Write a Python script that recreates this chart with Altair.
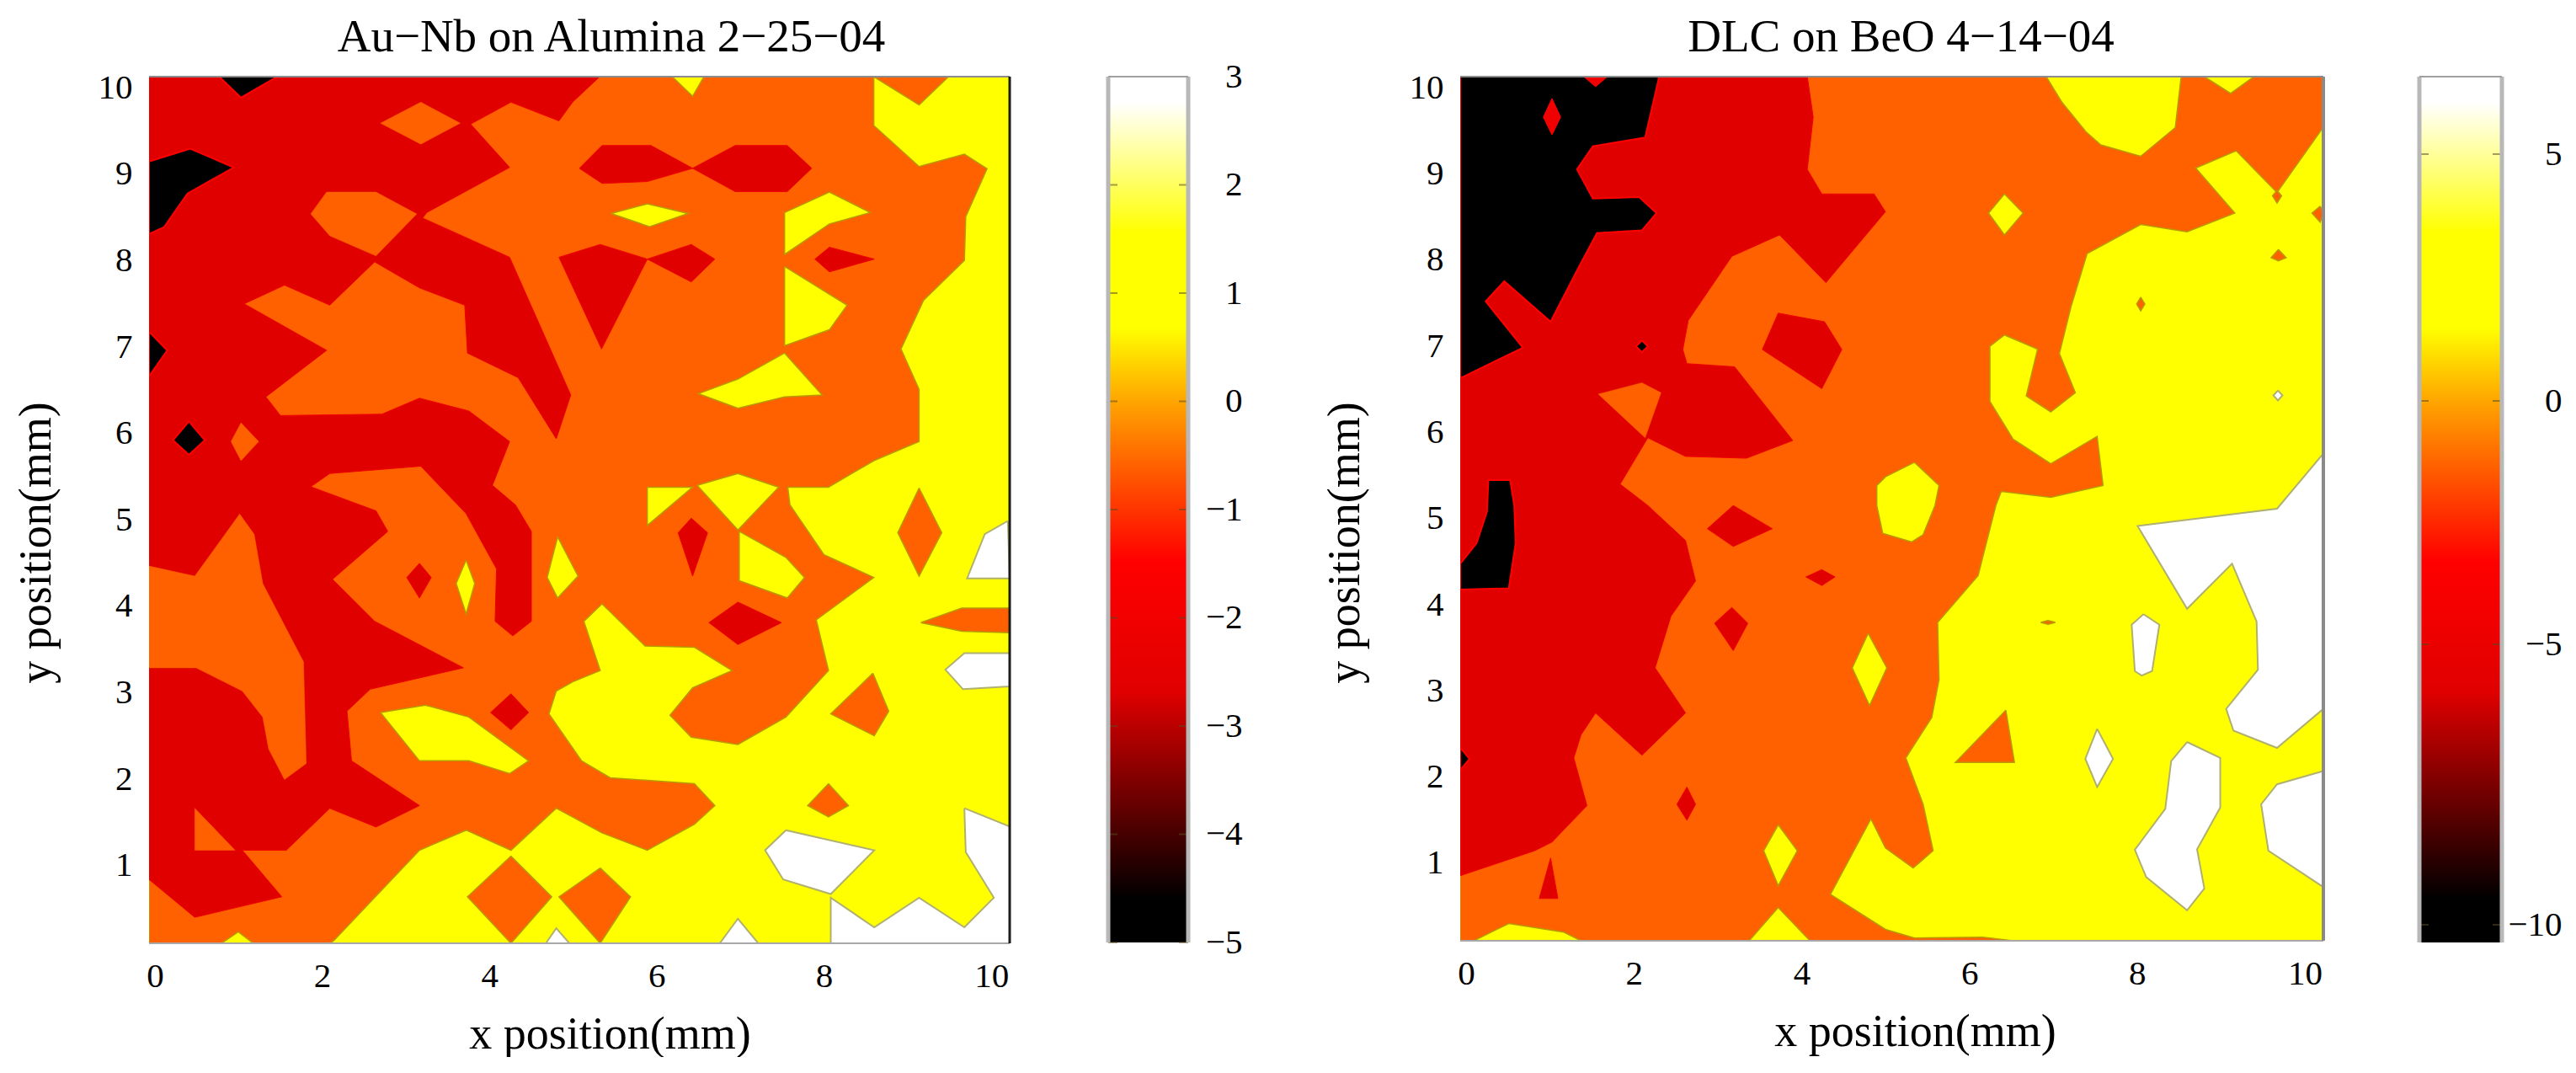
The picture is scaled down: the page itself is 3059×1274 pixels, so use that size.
import altair as alt
import pandas as pd

FONT = "Liberation Serif"
BLACK, RED, ORANGE, YELLOW, WHITE = "#000000", "#E00000", "#FF6000", "#FFFF00", "#FFFFFF"

# Region outlines read from the picture, as (column, row) on the 20 x 20 measuring grid
# (column 0 = left edge, row 0 = top edge).
A_WHITE = [
    [(18.96,9.74),(18.45,10.03),(18.06,11),(19,11)],
    [(19,12.64),(18,12.64),(17.58,13),(17.97,13.43),(19,13.37)],
    [(14.06,16.52),(16.01,16.96),(15.05,17.92),(14,17.6),(13.6,16.96)],
    [(18,16.04),(19,16.44),(19,19),(15.05,19),(15.05,18),(16.01,18.65),(17,18),(18,18.65),(18.65,18),(18.03,17)],
    [(12.6,19),(13,18.46),(13.45,19)],
    [(8.76,19),(8.99,18.67),(9.28,19)],
]
A_ORANGE = [
    [(0,0),(11.55,0),(12,0.43),(12.25,0),(17.65,0),(17,0.62),(16,0),(16,1.07),(17,1.97),(18,1.7),(18.5,2.02),
     (18.03,3.07),(18,4.03),(17.1,4.9),(16.6,5.97),(17,6.86),(17,8),(16,8.42),(15,9),(14.1,9),(14.15,9.39),
     (14.9,10.48),(16,10.98),(14.73,11.91),(15,13.02),(14.06,14.04),(13,14.64),(11.97,14.48),(11.5,14),(12,13.4),
     (12.87,13.02),(12.04,12.51),(10.95,12.48),(10,11.56),(9.6,11.94),(9.96,13.02),(9.35,13.27),(8.99,13.47),
     (8.83,13.97),(9.55,15),(10.18,15.37),(12.04,15.5),(12.49,15.98),(12.04,16.39),(11,16.96),(10,16.58),
     (8.99,16.04),(7.99,16.96),(7,16.52),(5.97,16.96),(4.08,18.94),(4,19),(0,19)],
    [(17,9.02),(17.5,10),(17,10.95),(16.53,10)],
    [(15.98,13.08),(16.33,13.91),(16.01,14.45),(15.05,13.97)],
    [(15,15.5),(15.44,15.98),(15,16.23),(14.54,15.98)],
    [(17.04,11.97),(17.94,11.65),(19,11.65),(19,12.19),(17.94,12.16)],
    [(7.99,17.09),(7.03,17.98),(7.99,19),(8.89,17.98)],
    [(9.96,17.35),(10.63,17.98),(9.96,19),(9.05,17.98)],
]
A_YELLOW = [
    [(11,9),(12,9),(11,9.84)],
    [(12.1,8.96),(13,8.7),(13.9,9),(13,9.94)],
    [(13.03,9.97),(14.06,10.54),(14.47,10.98),(14.09,11.43),(13.03,11.05)],
    [(10.2,3),(11,2.79),(11.9,3),(11.05,3.29)],
    [(14.03,2.98),(15.02,2.53),(15.92,2.98),(15.02,3.23),(14.03,3.9)],
    [(14.03,4.16),(15.41,5.01),(15.02,5.55),(14.03,5.9)],
    [(14.03,6.06),(14.86,6.98),(14.03,7.02),(13,7.27),(12.13,6.95),(13,6.63)],
    [(7,10.6),(7.19,11.11),(7,11.78),(6.78,11.11)],
    [(9.02,10.09),(9.47,10.95),(9.02,11.43),(8.79,10.98)],
    [(5.11,13.94),(6.1,13.78),(7.06,14.04),(8.38,15),(7.96,15.28),(7.06,15),(5.97,15)],
    [(1.6,19),(1.97,18.75),(2.3,19)],
]
A_RED = [
    [(0,0),(9.95,0),(9.35,0.56),(9.05,0.97),(7.99,0.56),(7.1,1.04),(7.96,1.99),(6.13,2.98),(6.04,3.1),(7.96,3.96),
     (9.31,6.98),(8.99,7.94),(8.15,6.6),(7.03,6.06),(6.97,5.01),(5.97,4.63),(4.98,4.06),(3.99,5.01),(2.99,4.57),
     (2.1,4.98),(3.92,6),(2.58,7.02),(2.9,7.43),(5.14,7.4),(5.97,7.05),(7.06,7.33),(7.96,8),(7.58,8.96),(8.09,9.39),
     (8.44,9.97),(8.44,11.94),(8.03,12.26),(7.64,11.94),(7.67,10.79),(7,9.58),(6,8.54),(3.99,8.7),(3.57,8.99),
     (5.01,9.52),(5.27,9.97),(4.05,11.02),(4.98,11.94),(6.94,12.96),(4.88,13.43),(4.37,13.91),(4.47,15),(5.97,15.98),
     (5.01,16.45),(3.99,16.04),(3.03,16.96),(2.06,16.96),(2.93,17.98),(1.01,18.43),(0,17.6)],
    [(9.5,2.01),(10,1.51),(11.08,1.51),(12,2.01),(12.94,1.51),(14.09,1.51),(14.63,2.01),(14.09,2.52),(12.94,2.52),
     (12,2.01),(11,2.3),(10,2.34)],
    [(9.05,3.96),(9.96,3.68),(11,4),(9.99,5.97)],
    [(11,4),(11.97,3.68),(12.49,4),(11.97,4.5)],
    [(14.7,4),(15.02,3.74),(16.01,4),(15.02,4.28)],
    [(11.97,9.68),(12.33,10),(12,10.95),(11.68,10)],
    [(13,11.52),(13.96,11.97),(13,12.45),(12.36,11.97)],
    [(5.97,10.67),(6.23,10.98),(5.97,11.43),(5.69,10.98)],
    [(7.99,13.53),(8.38,13.94),(7.99,14.32),(7.54,13.94)],
]
A_ORANGE_ON_RED = [
    [(0,10.73),(1.01,10.95),(2,9.59),(2.32,10.03),(2.51,11.11),(3.41,12.83),(3.47,15.06),(2.99,15.41),(2.64,14.74),
     (2.51,14.04),(2.06,13.47),(1.04,12.96),(0,12.96)],
    [(1.01,16.04),(1.9,16.96),(1.01,16.96)],
    [(5.11,1.02),(6,0.56),(6.87,1.02),(6,1.48)],
    [(3.57,3.01),(3.92,2.53),(5.01,2.53),(5.91,3.01),(5.01,3.93),(3.99,3.49)],
    [(1.81,8),(2.03,7.59),(2.42,8),(2.03,8.42)],
]
A_BLACK = [
    [(1.55,0),(2.83,0),(2.03,0.46)],
    [(0,1.86),(0.91,1.58),(1.87,1.99),(0.85,2.56),(0.33,3.3),(0,3.45)],
    [(0,5.59),(0.4,6),(0,6.57)],
    [(0.88,7.56),(1.23,7.97),(0.88,8.29),(0.53,7.97)],
]

B_WHITE = [
    [(18.97,8.32),(17.98,9.5),(14.91,9.88),(16,11.7),(16.99,10.71),(17.53,11.98),(17.56,13.04),(16.86,13.9),
     (17.02,14.38),(17.98,14.76),(19,13.9),(19,8.32)],
    [(19,15.27),(17.98,15.56),(17.63,16),(17.79,17.02),(19,17.82)],
    [(16,14.63),(16.73,14.98),(16.73,16.07),(16.22,16.99),(16.38,17.85),(16,18.33),(15.1,17.6),(14.85,17),(15.52,16.1),(15.65,15.05)],
    [(15.04,11.82),(15.39,12.05),(15.23,13.07),(15,13.17),(14.85,13.07),(14.78,12.05)],
    [(14.02,14.34),(14.37,15),(14.02,15.62),(13.76,15)],
    [(18,6.9),(18.1,7.01),(18,7.12),(17.9,7.01)],
]
B_ORANGE = [
    [(0,0),(12.9,0),(13.25,0.57),(13.77,1.21),(14.1,1.5),(14.98,1.75),(15.74,1.12),(15.87,0),(19,0),(19,1.08),(18.97,1.15),
     (17.98,2.55),(17.08,1.63),(16.19,2.01),(17.05,3),(16,3.41),(14.98,3.25),(13.8,3.89),(13.45,5.04),(13.19,6.09),
     (13.54,6.95),(13,7.37),(12.46,7.02),(12.71,5.99),(11.98,5.68),(11.66,5.93),(11.66,7.14),(12.17,7.97),(13,8.51),
     (14.02,7.91),(14.15,8.99),(13,9.25),(11.91,9.12),(11.79,9.43),(11.4,10.97),(10.51,12),(10.54,13.26),(10.38,14.09),
     (9.81,14.98),(10.19,16),(10.41,17.02),(9.97,17.4),(9.36,16.96),(9.04,16.32),(8.15,17.98),(9.36,18.75),(10,18.94),
     (11.5,18.92),(12.17,19),(0,19)],
    [(12.01,13.93),(12.2,15.08),(10.9,15.08)],
    [(12.94,11.96),(13.1,12),(12.94,12.04),(12.78,12)],
    [(14.98,4.85),(15.07,5),(14.98,5.15),(14.89,5)],
    [(18.01,3.8),(18.18,3.98),(18.01,4.05),(17.85,3.98)],
    [(17.98,2.5),(18.08,2.62),(17.98,2.78),(17.88,2.62)],
    [(18.93,2.85),(19,3),(18.93,3.2),(18.75,3)],
]
B_YELLOW = [
    [(16.38,0),(17.47,0),(16.96,0.37)],
    [(10,8.48),(10.54,8.99),(10.45,9.43),(10.19,10.07),(9.94,10.23),(9.3,10.04),(9.17,9.43),(9.17,8.99),(9.36,8.8)],
    [(11.98,2.58),(12.39,3),(11.98,3.48),(11.63,3)],
    [(8.98,12.24),(9.39,13),(9.01,13.83),(8.63,13)],
    [(7,16.45),(7.42,17.02),(7,17.79),(6.68,17.02)],
    [(6.36,19),(7,18.27),(7.7,19)],
    [(0.3,19),(1.07,18.62),(2.28,18.81),(2.66,19)],
]
B_RED = [
    [(0,0),(7.64,0),(7.77,0.89),(7.64,2.04),(7.96,2.58),(9.11,2.58),(9.36,2.97),(8.05,4.53),(7.03,3.48),(5.98,3.95),
     (5.02,5.36),(4.9,6),(4.99,6.31),(6.04,6.38),(7.32,8),(6.3,8.39),(4.96,8.35),(4.13,7.94),(3.52,8.96),(4.13,9.43),
     (4.96,10.2),(5.18,11.09),(4.64,11.86),(4.29,13),(4.96,13.99),(4,14.92),(2.98,13.99),(2.66,14.47),(2.5,14.98),
     (2.79,16.03),(2.02,16.83),(1.64,17.02),(0,17.57)],
    [(7,5.2),(8.02,5.39),(8.4,6),(7.96,6.86),(6.65,6)],
    [(6.01,9.43),(6.87,9.94),(6.01,10.33),(5.44,9.94)],
    [(7.96,10.84),(8.25,11),(7.96,11.19),(7.61,11)],
    [(5.98,11.67),(6.33,12.02),(6.01,12.62),(5.6,12.02)],
    [(4.99,15.62),(5.18,16),(4.99,16.35),(4.77,16)],
    [(1.99,17.18),(2.15,18.07),(1.74,18.07)],
]
B_ORANGE_ON_RED = [
    [(3.04,6.98),(4,6.73),(4.42,6.95),(4.07,7.94)],
]
B_BLACK = [
    [(0,0),(4.38,0),(4.07,1.34),(2.92,1.53),(2.57,2.04),(2.92,2.68),(3.94,2.65),(4.32,3),(4,3.38),(3.01,3.44),(2.6,4.21),
     (1.99,5.39),(0.97,4.5),(0.56,4.94),(1.38,5.96),(0,6.63)],
    [(1.19,9.43),(1.22,10.26),(1.07,11.25),(0,11.28),(0,10.71),(0.36,10.26),(0.59,9.56),(0.62,8.87),(1.1,8.87)],
    [(0,14.75),(0.2,15),(0,15.25)],
    [(4,5.8),(4.13,5.93),(4,6.06),(3.87,5.93)],
]
B_RED_ON_BLACK = [
    [(2.02,0.48),(2.21,0.89),(2.02,1.28),(1.83,0.89)],
    [(2.72,0),(2.98,0.22),(3.24,0)],
]

GRID_STEPS = 19
X_SPAN = [-0.07, 10.22]
Y_SPAN = [0.10, 10.13]
X_TICKS = [0, 2, 4, 6, 8, 10]
Y_TICKS = [1, 2, 3, 4, 5, 6, 7, 8, 9, 10]
CB1_TICKS = [-5, -4, -3, -2, -1, 0, 1, 2, 3]
CB2_TICKS = [-10, -5, 0, 5]
CB2_DOMAIN = [-10.4, -10, -5, 0, 5, 6.6]
CB2_RANGE = [1028, 1007, 674, 385, 92, 0]

STOP_POS = [0, 0.05, 0.17, 0.29, 0.44, 0.55, 0.62, 0.71, 0.82, 0.97, 1]
STOP_COL = ["#000000", "#000000", "#700000", "#E00000", "#FF0000", "#FF6000", "#FFA000", "#FFFF00", "#FFFF00", "#FFFFFF", "#FFFFFF"]

LABEL_SIZE = 41
AXIS_TITLE_SIZE = 54
TITLE_SIZE = 55


def rows(polys):
    out = []
    for p, poly in enumerate(polys):
        for i, (c, r) in enumerate(list(poly) + [poly[0]]):
            out.append({
                "x": X_SPAN[0] + c * (X_SPAN[1] - X_SPAN[0]) / GRID_STEPS,
                "y": Y_SPAN[1] - r * (Y_SPAN[1] - Y_SPAN[0]) / GRID_STEPS,
                "p": p, "i": i,
            })
    return pd.DataFrame(out)


def panel(title, title_dx, passes, w, h, x_title_x, y_title_x, right_col, right_w):
    xs = alt.Scale(domain=X_SPAN, nice=False, zero=False)
    ys = alt.Scale(domain=Y_SPAN, nice=False, zero=False)
    x_axis = alt.Axis(
        values=X_TICKS, grid=False, domain=False, tickSize=0, labelPadding=19,
        labelFont=FONT, labelFontSize=LABEL_SIZE, labelColor="#000", titleFont=FONT, titleFontSize=AXIS_TITLE_SIZE,
        titleFontWeight="normal", titleColor="#000", titleX=x_title_x, titleY=124, titleBaseline="alphabetic",
        title="x position(mm)")
    y_axis = alt.Axis(
        values=Y_TICKS, grid=False, domain=False, tickSize=0, labelPadding=20,
        labelFont=FONT, labelFontSize=LABEL_SIZE, labelColor="#000", titleFont=FONT, titleFontSize=AXIS_TITLE_SIZE,
        titleFontWeight="normal", titleColor="#000", titleX=y_title_x, titleY=553, title="y position(mm)")
    x_enc = alt.X("x:Q", scale=xs, axis=x_axis)
    y_enc = alt.Y("y:Q", scale=ys, axis=y_axis)
    layers = []
    for polys, fill, stroke, sw in passes:
        layers.append(alt.Chart(rows(polys)).mark_line(
            fill=fill, stroke=stroke, strokeWidth=sw, clip=True, interpolate="linear", strokeJoin="miter"
        ).encode(x=x_enc, y=y_enc, detail="p:N", order="i:Q"))
    y_df = pd.DataFrame({"y": Y_SPAN})
    x_df = pd.DataFrame({"x": [X_SPAN[1]]})
    frame = [
        alt.Chart(y_df).transform_filter(alt.datum.y > 5).mark_rule(color="#8c8c8c", strokeWidth=2).encode(y=y_enc),
        alt.Chart(y_df).transform_filter(alt.datum.y < 5).mark_rule(color="#a8a8a8", strokeWidth=2).encode(y=y_enc),
        alt.Chart(x_df).mark_rule(color=right_col, strokeWidth=right_w).encode(x=x_enc),
    ]
    return alt.layer(*layers, *frame).properties(
        width=w, height=h, view=alt.ViewConfig(fill=YELLOW, stroke=None),
        title=alt.TitleParams(title, font=FONT, fontSize=TITLE_SIZE, fontWeight="normal", color="#000", offset=10, dx=title_dx),
    )


def colorbar(lo, hi, ticks, scale, w, h, pad):
    grad = alt.Gradient(
        gradient="linear", x1=0, x2=0, y1=1, y2=0,
        stops=[alt.GradientStop(color=c, offset=o) for c, o in zip(STOP_COL, STOP_POS)],
    )
    axis = alt.Axis(values=ticks, orient="right", grid=False, domain=False, tickSize=0, labelAlign="right", labelPadding=pad,
                    labelFont=FONT, labelFontSize=LABEL_SIZE, labelColor="#000", title=None)
    span = pd.DataFrame({"a": [lo], "b": [hi]})
    bar = alt.Chart(span).mark_rect(fill=grad).encode(
        y=alt.Y("a:Q", scale=scale, axis=axis), y2="b:Q", x=alt.value(0), x2=alt.value(w))
    tick_df = pd.DataFrame({"a": ticks})
    t1 = alt.Chart(tick_df).mark_rule(color="#5a4a20", opacity=0.55, strokeWidth=2).encode(
        y=alt.Y("a:Q", scale=scale, axis=axis), x=alt.value(0), x2=alt.value(11))
    t2 = alt.Chart(tick_df).mark_rule(color="#5a4a20", opacity=0.55, strokeWidth=2).encode(
        y=alt.Y("a:Q", scale=scale, axis=axis), x=alt.value(w - 11), x2=alt.value(w))
    side1 = alt.Chart(span).mark_rule(color="#b8b8b8", strokeWidth=5).encode(
        x=alt.value(0), y=alt.value(0), y2=alt.value(h))
    side2 = alt.Chart(span).mark_rule(color="#b8b8b8", strokeWidth=5).encode(
        x=alt.value(w), y=alt.value(0), y2=alt.value(h))
    top = alt.Chart(span).mark_rule(color="#a0a0a0", strokeWidth=2).encode(
        x=alt.value(0), x2=alt.value(w), y=alt.value(0))
    return alt.layer(bar, t1, t2, side1, side2, top).properties(
        width=w, height=h, view=alt.ViewConfig(stroke=None),
    )


C_Y = "#B89A00"
C_W = "#B0B070"
A_PASSES = [
    (A_WHITE, WHITE, C_W, 2), (A_ORANGE, ORANGE, C_Y, 1.5), (A_YELLOW, YELLOW, C_Y, 1.5), (A_RED, RED, "#F00000", 1),
    (A_BLACK, BLACK, "#FF0000", 2), (A_ORANGE_ON_RED, ORANGE, ORANGE, 0.5),
]
B_PASSES = [
    (B_WHITE, WHITE, C_W, 2), (B_ORANGE, ORANGE, C_Y, 1.5), (B_YELLOW, YELLOW, C_Y, 1.5), (B_RED, RED, "#F00000", 1),
    (B_BLACK, BLACK, "#FF0000", 2), (B_RED_ON_BLACK, "#F00000", "#FF0000", 1), (B_ORANGE_ON_RED, ORANGE, ORANGE, 0.5),
]

p1 = panel("Au\u2212Nb on Alumina 2\u221225\u221204", 38, A_PASSES, 1022, 1029, 547, -107, "#1c1c1c", 3)
c1 = colorbar(-5, 3, CB1_TICKS, alt.Scale(domain=[-5, 3], nice=False, zero=False), 95, 1028, 64)
p2 = panel("DLC on BeO 4\u221214\u221204", 11, B_PASSES, 1025, 1026, 540, -110, "#8a8a8a", 4)
c2 = colorbar(-10.4, 6.6, CB2_TICKS, alt.Scale(domain=CB2_DOMAIN, range=CB2_RANGE, nice=False, zero=False, clamp=True), 98, 1028, 71)

chart = alt.hconcat(
    alt.hconcat(p1, c1, spacing=112),
    alt.hconcat(p2, c2, spacing=109),
    spacing=95,
).properties(padding={"left": 8, "top": 9, "right": 0, "bottom": 0}, background="#ffffff").configure_view(stroke=None)

chart.save("out.html", embed_options={"renderer": "svg", "actions": False})
